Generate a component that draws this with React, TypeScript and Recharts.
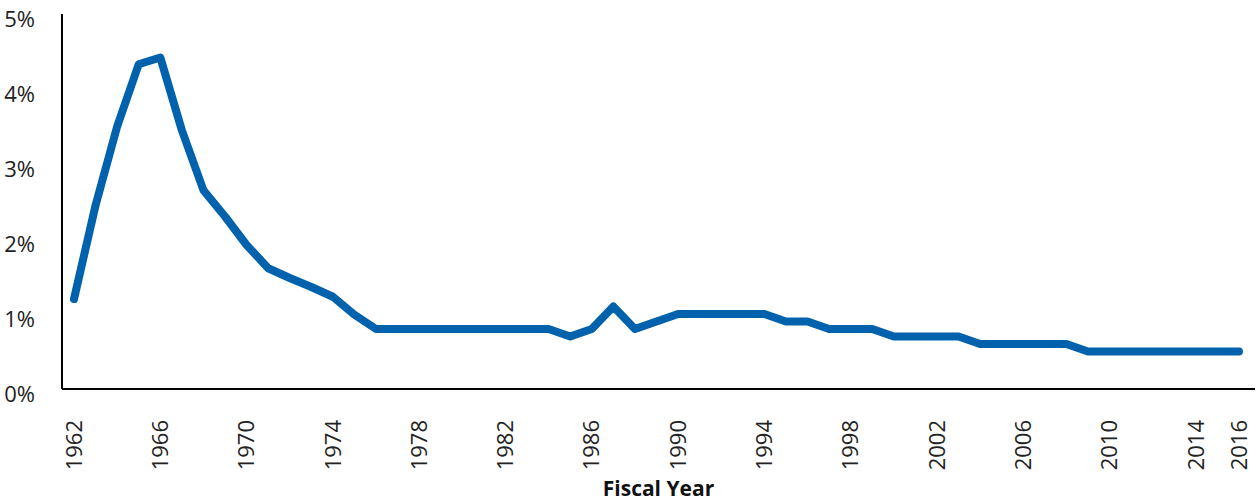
import { LineChart, Line, XAxis, YAxis } from 'recharts'

const years = [
  1962, 1963, 1964, 1965, 1966, 1967, 1968, 1969, 1970, 1971, 1972, 1973, 1974, 1975, 1976, 1977, 1978, 1979,
  1980, 1981, 1982, 1983, 1984, 1985, 1986, 1987, 1988, 1989, 1990, 1991, 1992, 1993, 1994, 1995, 1996, 1997,
  1998, 1999, 2000, 2001, 2002, 2003, 2004, 2005, 2006, 2007, 2008, 2009, 2010, 2011, 2012, 2013, 2014, 2015,
  2016,
]

const shares = [
  1.2, 2.45, 3.5, 4.33, 4.42, 3.45, 2.65, 2.3, 1.92, 1.61, 1.48, 1.36, 1.23, 0.99, 0.8, 0.8, 0.8, 0.8,
  0.8, 0.8, 0.8, 0.8, 0.8, 0.7, 0.8, 1.1, 0.8, 0.9, 1.0, 1.0, 1.0, 1.0, 1.0, 0.9, 0.9, 0.8,
  0.8, 0.8, 0.7, 0.7, 0.7, 0.7, 0.6, 0.6, 0.6, 0.6, 0.6, 0.5, 0.5, 0.5, 0.5, 0.5, 0.5, 0.5,
  0.5,
]

const xTicks = [1962, 1966, 1970, 1974, 1978, 1982, 1986, 1990, 1994, 1998, 2002, 2006, 2010, 2014, 2016]
const yTicks = [0, 1, 2, 3, 4, 5]

const data = years.map((year, i) => ({ year, share: shares[i] }))

const FONT = '"Open Sans", sans-serif'

function YearTick({ x, y, payload }: any) {
  return (
    <text
      transform={`translate(${x},${y + 23}) rotate(-90)`}
      textAnchor="end"
      dy="0.35em"
      fontFamily={FONT}
      fontSize={22}
      fill="#222"
    >
      {payload.value}
    </text>
  )
}

function PctTick({ x, y, payload }: any) {
  return (
    <text x={x - 19} y={y + 5} dy="0.35em" textAnchor="end" fontFamily={FONT} fontSize={22} fill="#222">
      {payload.value}%
    </text>
  )
}

export default function App() {
  return (
    <div style={{ position: 'absolute', left: 0, top: 0, width: 1256, height: 504, background: '#fff' }}>
      <LineChart width={1256} height={504} data={data} margin={{ top: 14, right: 1, bottom: 0, left: 0 }}>
        <XAxis
          dataKey="year"
          type="number"
          domain={[1962, 2016]}
          ticks={xTicks}
          interval={0}
          padding={{ left: 12, right: 16 }}
          height={115}
          axisLine={{ stroke: '#000', strokeWidth: 2 }}
          tickLine={false}
          tick={<YearTick />}
          label={{
            value: 'Fiscal Year',
            position: 'insideBottom',
            offset: 8,
            style: { fontFamily: FONT, fontSize: 21, fontWeight: 700, fill: '#111' },
          }}
        />
        <YAxis
          domain={[0, 5]}
          ticks={yTicks}
          width={62}
          axisLine={{ stroke: '#000', strokeWidth: 2 }}
          tickLine={false}
          tick={<PctTick />}
        />
        <Line
          type="linear"
          dataKey="share"
          stroke="#0062ad"
          strokeWidth={8}
          strokeLinecap="round"
          strokeLinejoin="round"
          dot={false}
          isAnimationActive={false}
        />
      </LineChart>
    </div>
  )
}
